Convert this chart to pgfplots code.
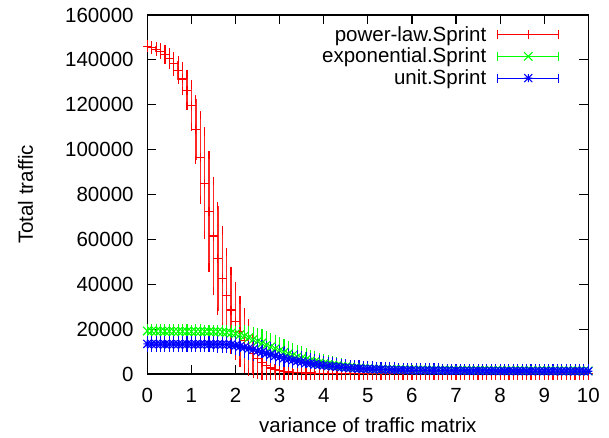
\documentclass[border=0pt]{standalone}
\usepackage{fontspec}
\setmainfont{Liberation Sans}
\usepackage{pgfplots}
\usepackage{pgfplotstable}
\pgfplotsset{compat=1.18}

\pgfdeclareplotmark{gpplus}{%
 \pgfpathmoveto{\pgfqpoint{-\pgfplotmarksize}{0pt}}\pgfpathlineto{\pgfqpoint{\pgfplotmarksize}{0pt}}%
 \pgfpathmoveto{\pgfqpoint{0pt}{-\pgfplotmarksize}}\pgfpathlineto{\pgfqpoint{0pt}{\pgfplotmarksize}}%
 \pgfusepathqstroke}
\pgfdeclareplotmark{gpx}{%
 \pgfpathmoveto{\pgfqpoint{-\pgfplotmarksize}{-\pgfplotmarksize}}\pgfpathlineto{\pgfqpoint{\pgfplotmarksize}{\pgfplotmarksize}}%
 \pgfpathmoveto{\pgfqpoint{-\pgfplotmarksize}{\pgfplotmarksize}}\pgfpathlineto{\pgfqpoint{\pgfplotmarksize}{-\pgfplotmarksize}}%
 \pgfusepathqstroke}
\pgfdeclareplotmark{gpstar}{%
 \pgfpathmoveto{\pgfqpoint{-\pgfplotmarksize}{0pt}}\pgfpathlineto{\pgfqpoint{\pgfplotmarksize}{0pt}}%
 \pgfpathmoveto{\pgfqpoint{0pt}{-\pgfplotmarksize}}\pgfpathlineto{\pgfqpoint{0pt}{\pgfplotmarksize}}%
 \pgfpathmoveto{\pgfqpoint{-\pgfplotmarksize}{-\pgfplotmarksize}}\pgfpathlineto{\pgfqpoint{\pgfplotmarksize}{\pgfplotmarksize}}%
 \pgfpathmoveto{\pgfqpoint{-\pgfplotmarksize}{\pgfplotmarksize}}\pgfpathlineto{\pgfqpoint{\pgfplotmarksize}{-\pgfplotmarksize}}%
 \pgfusepathqstroke}
\pgfdeclareplotmark{gpcap}{%
 \pgfpathmoveto{\pgfqpoint{-\pgfplotmarksize}{0pt}}\pgfpathlineto{\pgfqpoint{\pgfplotmarksize}{0pt}}%
 \pgfusepathqstroke}

\pgfplotstableread{
x y e
0.0 146000 800
0.1 145500 1000
0.2 144800 1300
0.3 143800 1700
0.4 142400 2200
0.5 140600 2800
0.6 138300 3500
0.7 135300 4400
0.8 131500 5500
0.9 126500 7000
1.0 119500 9500
1.1 109000 13500
1.2 96500 19000
1.3 85000 23000
1.4 72500 25000
1.5 61500 24500
1.6 51500 23500
1.7 42500 21500
1.8 35000 19500
1.9 28500 17500
2.0 23500 15500
2.1 19000 14000
2.2 15000 12500
2.3 11800 11000
2.4 9000 9000
2.5 6800 7200
2.6 5000 5600
2.7 3700 4300
2.8 2700 3300
2.9 2000 2600
3.0 1500 2100
3.1 1150 1750
3.2 900 1500
3.3 750 1350
3.4 630 1230
3.5 550 1150
3.6 490 1090
3.7 440 1040
3.8 400 1000
3.9 370 970
4.0 340 940
4.1 320 920
4.2 305 905
4.3 290 890
4.4 280 880
4.5 270 870
4.6 260 860
4.7 250 850
4.8 245 845
4.9 240 840
5.0 235 835
5.1 230 830
5.2 225 825
5.3 220 820
5.4 215 815
5.5 210 810
5.6 205 805
5.7 200 800
5.8 198 798
5.9 196 796
6.0 194 794
6.1 192 792
6.2 190 790
6.3 188 788
6.4 186 786
6.5 184 784
6.6 182 782
6.7 180 780
6.8 178 778
6.9 176 776
7.0 175 775
7.1 174 774
7.2 172 772
7.3 171 771
7.4 170 770
7.5 168 768
7.6 167 767
7.7 166 766
7.8 165 765
7.9 164 764
8.0 163 763
8.1 162 762
8.2 161 761
8.3 160 760
8.4 159 759
8.5 158 758
8.6 157 757
8.7 156 756
8.8 156 756
8.9 155 755
9.0 155 755
9.1 154 754
9.2 154 754
9.3 153 753
9.4 153 753
9.5 152 752
9.6 152 752
9.7 151 751
9.8 151 751
9.9 150 750
10.0 150 750
}\powerlaw

\pgfplotstableread{
x y e
0.0 19200 1050
0.1 19150 1100
0.2 19100 1100
0.3 19100 1150
0.4 19050 1150
0.5 19050 1150
0.6 19000 1200
0.7 19000 1200
0.8 19000 1200
0.9 19000 1200
1.0 18950 1200
1.1 18950 1250
1.2 18950 1250
1.3 18900 1250
1.4 18900 1250
1.5 18850 1300
1.6 18800 1300
1.7 18700 1400
1.8 18550 1550
1.9 18300 1800
2.0 18000 2200
2.1 17500 2600
2.2 16900 3000
2.3 16200 3400
2.4 15400 3700
2.5 14600 4000
2.6 13800 4200
2.7 12900 4300
2.8 12100 4400
2.9 11300 4400
3.0 10500 4300
3.1 9700 4200
3.2 9000 4000
3.3 8300 3800
3.4 7600 3600
3.5 7000 3400
3.6 6400 3200
3.7 5900 3000
3.8 5400 2800
3.9 5000 2600
4.0 4600 2400
4.1 4300 2200
4.2 4000 2000
4.3 3700 1850
4.4 3450 1700
4.5 3200 1550
4.6 3000 1400
4.7 2800 1300
4.8 2650 1200
4.9 2500 1100
5.0 2350 1000
5.1 2250 980
5.2 2180 960
5.3 2120 940
5.4 2070 920
5.5 2020 900
5.6 1980 890
5.7 1940 880
5.8 1900 870
5.9 1870 860
6.0 1840 850
6.1 1810 845
6.2 1790 840
6.3 1770 835
6.4 1750 830
6.5 1730 826
6.6 1710 822
6.7 1690 818
6.8 1670 815
6.9 1655 812
7.0 1640 809
7.1 1625 806
7.2 1610 803
7.3 1600 800
7.4 1590 798
7.5 1580 796
7.6 1570 794
7.7 1560 792
7.8 1550 790
7.9 1540 788
8.0 1530 786
8.1 1520 785
8.2 1510 784
8.3 1500 783
8.4 1495 782
8.5 1490 781
8.6 1485 780
8.7 1480 780
8.8 1470 779
8.9 1460 779
9.0 1455 778
9.1 1450 778
9.2 1445 777
9.3 1440 777
9.4 1430 776
9.5 1425 776
9.6 1420 775
9.7 1415 775
9.8 1410 775
9.9 1405 775
10.0 1400 775
}\exponential

\pgfplotstableread{
x y e
0.0 13400 1700
0.1 13350 1700
0.2 13350 1750
0.3 13300 1750
0.4 13300 1750
0.5 13300 1750
0.6 13300 1750
0.7 13300 1750
0.8 13300 1750
0.9 13300 1750
1.0 13300 1750
1.1 13300 1750
1.2 13250 1750
1.3 13250 1750
1.4 13250 1750
1.5 13250 1750
1.6 13200 1750
1.7 13200 1800
1.8 13150 1850
1.9 13000 2000
2.0 12700 2300
2.1 12300 2600
2.2 11900 2900
2.3 11400 3100
2.4 10900 3300
2.5 10300 3400
2.6 9800 3500
2.7 9200 3500
2.8 8700 3500
2.9 8100 3500
3.0 7600 3400
3.1 7100 3300
3.2 6600 3200
3.3 6200 3100
3.4 5800 3000
3.5 5400 2900
3.6 5000 2800
3.7 4700 2650
3.8 4400 2500
3.9 4100 2400
4.0 3850 2300
4.1 3600 2200
4.2 3400 2100
4.3 3200 2000
4.4 3000 1900
4.5 2850 1850
4.6 2700 1800
4.7 2550 1750
4.8 2450 1700
4.9 2350 1650
5.0 2250 1600
5.1 2180 1570
5.2 2110 1540
5.3 2040 1510
5.4 1970 1480
5.5 1900 1450
5.6 1850 1430
5.7 1800 1410
5.8 1750 1390
5.9 1700 1370
6.0 1650 1350
6.1 1630 1340
6.2 1610 1330
6.3 1590 1320
6.4 1570 1310
6.5 1550 1300
6.6 1530 1295
6.7 1510 1290
6.8 1490 1280
6.9 1470 1270
7.0 1450 1250
7.1 1440 1248
7.2 1430 1245
7.3 1420 1242
7.4 1410 1240
7.5 1400 1235
7.6 1390 1230
7.7 1380 1225
7.8 1370 1220
7.9 1360 1210
8.0 1350 1200
8.1 1345 1198
8.2 1340 1196
8.3 1335 1194
8.4 1330 1192
8.5 1325 1190
8.6 1320 1188
8.7 1315 1186
8.8 1310 1184
8.9 1305 1182
9.0 1300 1180
9.1 1295 1178
9.2 1290 1176
9.3 1285 1174
9.4 1280 1172
9.5 1275 1170
9.6 1270 1168
9.7 1265 1165
9.8 1260 1162
9.9 1255 1160
10.0 1250 1150
}\unit

\begin{document}
\fontsize{20.5}{24.6}\selectfont
\begin{tikzpicture}
\begin{axis}[
  scale only axis,
  width=441pt, height=359pt,
  xmin=0, xmax=10, ymin=0, ymax=160000,
  xtick={0,1,...,10},
  ytick={0,20000,40000,60000,80000,100000,120000,140000,160000},
  scaled y ticks=false,
  /pgf/number format/assume math mode=true,
  yticklabel style={/pgf/number format/fixed, /pgf/number format/1000 sep={}, anchor=east, xshift=-13.5pt, inner sep=0pt},
  xticklabel style={anchor=base, yshift=-28pt, inner sep=0pt},
  tick align=inside,
  major tick length=9pt,
  axis line style={line width=1.2pt},
  every tick/.style={black, line width=1.2pt},
  clip=false,
  xlabel={variance of traffic matrix},
  ylabel={Total traffic},
  xlabel style={at={(axis description cs:0.5,-0.1643)}, anchor=base, inner sep=0pt},
  ylabel style={at={(axis description cs:-0.2592,0.5)}, anchor=base, inner sep=0pt},
  legend plot pos=right,
  legend style={draw=none, fill=none, at={(axis description cs:0.9347,0.9694)}, anchor=north east,
    inner sep=0pt, row sep=1.7pt, column sep=11pt,
    font=\fontsize{20.5}{24.6}\selectfont,
    cells={anchor=base east},
    nodes={inner sep=0pt, text height=15pt, text depth=5pt}},
  legend image code/.code={
    \draw[#1, mark=none, line width=1pt] (0pt,6.5pt) -- (61pt,6.5pt);
    \draw[#1, mark=none, line width=1pt] (0pt,2pt) -- (0pt,11pt) (61pt,2pt) -- (61pt,11pt);
    \draw[#1, only marks] plot coordinates {(30.5pt,6.5pt)};
  },
]
\coordinate (sw) at (rel axis cs:0,0);
\addplot[color=red, only marks, mark=gpplus, mark size=4.5pt, mark options={line width=1.2pt, draw=red},
  error bars/.cd, y dir=both, y explicit, error mark=gpcap,
  error bar style={line width=1.4pt, draw=red!85!white},
  error mark options={draw=red, mark size=4.2pt, line width=1.2pt}]
  table[x=x, y=y, y error=e] {\powerlaw};
\addlegendentry{power-law.Sprint}
\addplot[color=green, only marks, mark=gpx, mark size=4.2pt, mark options={line width=1.1pt, draw=green},
  error bars/.cd, y dir=both, y explicit, error mark=gpcap,
  error bar style={line width=1.2pt, draw=green},
  error mark options={draw=green, mark size=4.2pt, line width=1.1pt}]
  table[x=x, y=y, y error=e] {\exponential};
\addlegendentry{exponential.Sprint}
\addplot[color=blue, only marks, mark=gpstar, mark size=4pt, mark options={line width=1.1pt, draw=blue},
  error bars/.cd, y dir=both, y explicit, error mark=gpcap,
  error bar style={line width=1.2pt, draw=blue},
  error mark options={draw=blue, mark size=4.2pt, line width=1.1pt}]
  table[x=x, y=y, y error=e] {\unit};
\addlegendentry{unit.Sprint}
\end{axis}
\pgfresetboundingbox
\path (sw) ++(-147.3pt,-63pt) rectangle ++(609pt,437pt);
\end{tikzpicture}
\end{document}
